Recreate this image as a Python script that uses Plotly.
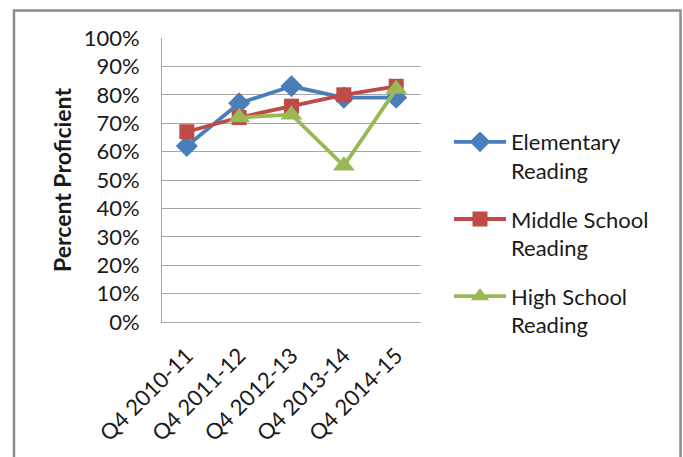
import plotly.graph_objects as go

# School-year quarters on the x axis
periods = ["Q4 2010-11", "Q4 2011-12", "Q4 2012-13", "Q4 2013-14", "Q4 2014-15"]

# Percent proficient by school level (fractions)
elementary = [0.62, 0.77, 0.83, 0.79, 0.79]
middle_school = [0.67, 0.72, 0.76, 0.80, 0.83]
high_school = [None, 0.72, 0.73, 0.55, 0.82]

y_ticks = [i / 10 for i in range(11)]

FONT = "Lato"
W, H = 683, 457
L, R, T, B = 162, 262, 38, 135
pw, ph = W - L - R, H - T - B


def px_x(px):
    return (px - L) / pw


def px_y(py):
    return (H - B - py) / ph


fig = go.Figure()
fig.add_trace(go.Scatter(
    x=periods, y=elementary, name="Elementary<br>Reading", mode="lines+markers",
    legendgroup="e",
    line=dict(color="#4A7EBB", width=3.8),
    marker=dict(symbol="diamond", size=17, color="#4A7EBB"),
))
fig.add_trace(go.Scatter(
    x=periods, y=middle_school, name="Middle School<br>Reading", mode="lines+markers",
    legendgroup="m",
    line=dict(color="#BE4B48", width=3.8),
    marker=dict(symbol="square", size=15, color="#BE4B48"),
))
fig.add_trace(go.Scatter(
    x=periods, y=high_school, name="High School<br>Reading", mode="lines+markers",
    legendgroup="h",
    line=dict(color="#98B954", width=3.8),
    marker=dict(symbol="triangle-up", size=19, color="#98B954"),
))

# outer chart frame
fig.add_shape(type="rect", xref="paper", yref="paper",
              x0=px_x(14), x1=px_x(680.5), y0=px_y(470), y1=px_y(10.5),
              line=dict(color="#8C8C8C", width=2.5), fillcolor="rgba(0,0,0,0)")

fig.update_layout(
    width=W, height=H,
    margin=dict(l=L, r=R, t=T, b=B),
    paper_bgcolor="white", plot_bgcolor="white",
    font=dict(family=FONT, size=22, color="#1a1a1a"),
    showlegend=True,
    legend=dict(x=px_x(449), xanchor="left", y=px_y(121), yanchor="top",
                valign="top", font=dict(size=22), tracegroupgap=17,
                itemwidth=52, bgcolor="rgba(0,0,0,0)"),
    xaxis=dict(
        type="category", tickangle=-45, showgrid=False, automargin=False,
        showline=True, linecolor="#A6A6A6", linewidth=1,
        ticks="", ticklabelstandoff=11, tickfont=dict(size=22),
    ),
    yaxis=dict(
        range=[0, 1], tickvals=y_ticks, tickformat=".0%", automargin=False,
        showgrid=True, gridcolor="#A6A6A6", gridwidth=1,
        showline=True, linecolor="#A6A6A6", linewidth=1,
        zeroline=False, ticks="", ticklabelstandoff=17,
        tickfont=dict(size=22),
        title=dict(text="<b>Percent Proficient</b>", font=dict(size=23), standoff=5),
    ),
)

fig.write_html("out.html")
